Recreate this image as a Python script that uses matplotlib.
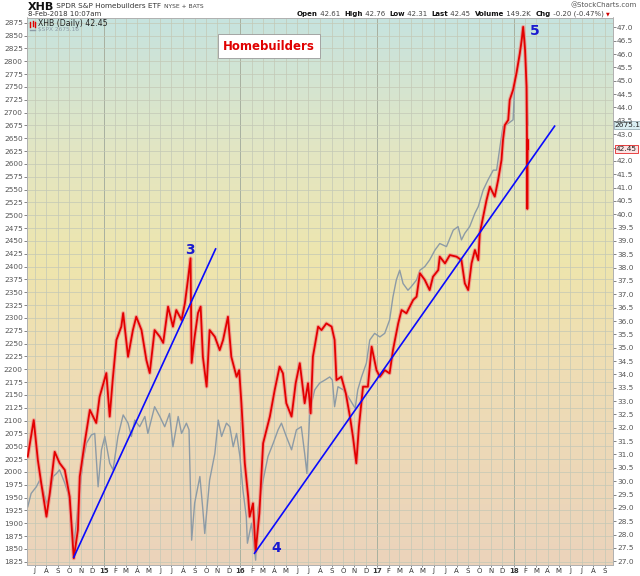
import numpy as np
import pandas as pd
import matplotlib
matplotlib.use("Agg")
import matplotlib.pyplot as plt
from matplotlib.colors import LinearSegmentedColormap
from matplotlib.lines import Line2D

# XHB daily (right axis)
xhb_dates = ["2014-06-12", "2014-06-28", "2014-07-09", "2014-07-18", "2014-08-01", "2014-08-10",
             "2014-08-23", "2014-09-05", "2014-09-19", "2014-10-02", "2014-10-13", "2014-10-24",
             "2014-10-29", "2014-11-11", "2014-11-25", "2014-12-12", "2014-12-21", "2015-01-08",
             "2015-01-17", "2015-01-25", "2015-02-04", "2015-02-17", "2015-02-22", "2015-03-07",
             "2015-03-20", "2015-03-29", "2015-04-12", "2015-04-25", "2015-05-04", "2015-05-17",
             "2015-05-31", "2015-06-09", "2015-06-22", "2015-07-05", "2015-07-14", "2015-07-28",
             "2015-08-06", "2015-08-14", "2015-08-21", "2015-08-24", "2015-09-01", "2015-09-10",
             "2015-09-17", "2015-09-23", "2015-10-03", "2015-10-11", "2015-10-25", "2015-11-07",
             "2015-11-16", "2015-11-29", "2015-12-08", "2015-12-22", "2015-12-29", "2016-01-04",
             "2016-01-13", "2016-01-22", "2016-01-26", "2016-02-04", "2016-02-11", "2016-02-21",
             "2016-03-02", "2016-03-20", "2016-04-02", "2016-04-15", "2016-04-24", "2016-05-03",
             "2016-05-17", "2016-05-28", "2016-06-08", "2016-06-21", "2016-06-30", "2016-07-07",
             "2016-07-13", "2016-07-27", "2016-08-05", "2016-08-18", "2016-09-01", "2016-09-09",
             "2016-09-14", "2016-09-27", "2016-10-09", "2016-10-20", "2016-10-28", "2016-11-06",
             "2016-11-13", "2016-11-24", "2016-12-07", "2016-12-17", "2016-12-30", "2017-01-08",
             "2017-01-21", "2017-02-03", "2017-02-12", "2017-02-26", "2017-03-07", "2017-03-20",
             "2017-03-29", "2017-04-07", "2017-04-16", "2017-04-25", "2017-05-08", "2017-05-21",
             "2017-05-30", "2017-06-13", "2017-06-17", "2017-07-01", "2017-07-14", "2017-08-01",
             "2017-08-14", "2017-08-23", "2017-09-01", "2017-09-10", "2017-09-19", "2017-09-28",
             "2017-10-02", "2017-10-20", "2017-10-29", "2017-11-11", "2017-11-20", "2017-11-29",
             "2017-12-03", "2017-12-08", "2017-12-17", "2017-12-21", "2017-12-30", "2018-01-08",
             "2018-01-17", "2018-01-22", "2018-01-26", "2018-01-31", "2018-02-04", "2018-02-05",
             "2018-02-06", "2018-02-07", "2018-02-08"]
xhb_close = [30.92, 32.29, 30.79, 29.93, 28.67, 29.56, 31.10, 30.68, 30.42, 29.42, 27.11, 28.17,
             30.17, 31.43, 32.67, 32.18, 33.16, 34.05, 32.42, 33.79, 35.29, 35.79, 36.30, 34.66,
             35.66, 36.16, 35.66, 34.54, 34.05, 35.66, 35.41, 35.18, 36.54, 35.79, 36.41, 36.04,
             36.67, 37.54, 38.35, 34.43, 35.41, 36.30, 36.54, 34.66, 33.54, 35.66, 35.41, 34.91,
             35.29, 36.16, 34.66, 33.91, 34.16, 32.92, 30.68, 29.42, 28.67, 29.17, 27.36, 28.80,
             31.42, 32.42, 33.42, 34.29, 34.04, 32.92, 32.42, 33.67, 34.42, 32.92, 33.67, 32.54,
             34.66, 35.79, 35.66, 35.91, 35.79, 35.29, 33.79, 33.91, 33.29, 32.42, 31.67, 30.67,
             32.04, 33.54, 33.54, 35.04, 34.16, 33.91, 34.16, 34.04, 34.91, 35.91, 36.41, 36.29,
             36.54, 36.79, 36.91, 37.79, 37.54, 37.16, 37.66, 37.91, 38.41, 38.16, 38.47, 38.41,
             38.28, 37.41, 37.16, 38.16, 38.66, 38.28, 39.28, 40.53, 41.03, 40.66, 41.28, 42.03,
             42.78, 43.34, 43.53, 44.28, 44.66, 45.28, 46.03, 46.52, 47.02, 46.15, 44.78, 43.04,
             40.20, 42.80, 42.45]

# $SPX overlay (left axis)
spx_dates = ["2014-06-12", "2014-06-21", "2014-07-05", "2014-07-14", "2014-07-23", "2014-08-01",
             "2014-08-10", "2014-08-19", "2014-08-28", "2014-09-05", "2014-09-19", "2014-09-28",
             "2014-10-14", "2014-10-29", "2014-11-07", "2014-11-16", "2014-11-29", "2014-12-08",
             "2014-12-17", "2014-12-26", "2015-01-04", "2015-01-17", "2015-01-26", "2015-02-08",
             "2015-02-22", "2015-03-07", "2015-03-16", "2015-03-25", "2015-04-07", "2015-04-21",
             "2015-04-29", "2015-05-17", "2015-05-31", "2015-06-13", "2015-06-26", "2015-07-05",
             "2015-07-19", "2015-07-28", "2015-08-10", "2015-08-17", "2015-08-24", "2015-09-01",
             "2015-09-15", "2015-09-23", "2015-09-28", "2015-10-11", "2015-10-25", "2015-11-03",
             "2015-11-12", "2015-11-25", "2015-12-04", "2015-12-13", "2015-12-22", "2015-12-31",
             "2016-01-08", "2016-01-17", "2016-01-20", "2016-01-31", "2016-02-11", "2016-02-17",
             "2016-03-02", "2016-03-15", "2016-03-29", "2016-04-11", "2016-04-20", "2016-05-03",
             "2016-05-17", "2016-05-30", "2016-06-12", "2016-06-21", "2016-06-27", "2016-07-05",
             "2016-07-18", "2016-07-31", "2016-08-14", "2016-08-27", "2016-09-03", "2016-09-09",
             "2016-09-18", "2016-10-02", "2016-10-15", "2016-11-03", "2016-11-10", "2016-11-20",
             "2016-12-03", "2016-12-12", "2016-12-25", "2017-01-08", "2017-01-21", "2017-02-03",
             "2017-02-12", "2017-02-21", "2017-03-02", "2017-03-11", "2017-03-24", "2017-04-02",
             "2017-04-16", "2017-04-25", "2017-05-08", "2017-05-21", "2017-06-04", "2017-06-17",
             "2017-07-05", "2017-07-23", "2017-08-05", "2017-08-14", "2017-08-23", "2017-09-05",
             "2017-09-19", "2017-09-28", "2017-10-11", "2017-10-24", "2017-11-07", "2017-11-16",
             "2017-11-25", "2017-12-03", "2017-12-17", "2017-12-30", "2018-01-04", "2018-01-17",
             "2018-01-24", "2018-01-31", "2018-02-04", "2018-02-07", "2018-02-08"]
spx_close = [1932, 1958, 1971, 1984, 1965, 1939, 1952, 1991, 1997, 2004, 1978, 1958,
             1861, 1965, 2023, 2056, 2072, 2075, 1971, 2043, 2069, 2017, 2004, 2069,
             2111, 2095, 2069, 2101, 2088, 2108, 2075, 2127, 2108, 2088, 2114, 2049,
             2108, 2075, 2095, 2082, 1867, 1939, 1991, 1926, 1880, 1984, 2036, 2101,
             2069, 2095, 2088, 2049, 2075, 2030, 1965, 1913, 1861, 1900, 1828, 1926,
             1984, 2030, 2056, 2082, 2095, 2069, 2043, 2082, 2088, 2036, 1997, 2121,
             2160, 2173, 2179, 2185, 2179, 2127, 2166, 2160, 2147, 2124, 2160, 2185,
             2212, 2257, 2270, 2263, 2270, 2296, 2341, 2374, 2393, 2367, 2354, 2361,
             2374, 2393, 2400, 2413, 2432, 2445, 2439, 2471, 2478, 2452, 2465, 2478,
             2504, 2517, 2549, 2569, 2588, 2588, 2634, 2673, 2679, 2686, 2763, 2809,
             2867, 2842, 2751, 2692, 2675.16]

# hand drawn trend lines (XHB scale)
trend3_dates = ["2014-10-13", "2015-10-27"]
trend3_vals = [27.15, 38.70]
trend4_dates = ["2016-02-08", "2018-04-20"]
trend4_vals = [27.30, 43.30]

month_letters = ["J", "F", "M", "A", "M", "J", "J", "A", "S", "O", "N", "D"]

W, H = 640, 576
fig = plt.figure(figsize=(W / 100, H / 100), dpi=100)
fig.patch.set_facecolor("white")
ax = fig.add_axes([27 / W, 1 - 565 / H, (613 - 27) / W, (565 - 17.5) / H])
ax2 = ax.twinx()

# background gradient
grad = LinearSegmentedColormap.from_list(
    "bg", [(0.0, "#ebd3bb"), (0.33, "#eedcb5"), (0.55, "#eee5ad"),
           (0.75, "#e3e6c2"), (1.0, "#c6e3df")])
ax.imshow(np.linspace(0, 1, 256).reshape(-1, 1), cmap=grad, origin="lower",
          aspect="auto", extent=[0, 1, 0, 1], transform=ax.transAxes, zorder=0)

xd = pd.to_datetime(xhb_dates)
sd = pd.to_datetime(spx_dates)

ax.plot(sd, spx_close, color="#8d9ba6", lw=1.0, zorder=3)
ax2.plot(xd, xhb_close, color="#f08a84", lw=2.8, alpha=0.7, zorder=3)
ax2.plot(xd, xhb_close, color="#e30000", lw=1.3, zorder=4)
ax2.plot(pd.to_datetime(trend3_dates), trend3_vals, color="#0a0aff", lw=1.2, zorder=5)
ax2.plot(pd.to_datetime(trend4_dates), trend4_vals, color="#0a0aff", lw=1.2, zorder=5)

ax.set_xlim(pd.Timestamp("2014-06-10"), pd.Timestamp("2018-09-23"))
ax.set_ylim(1818.6, 2885.4)
ax2.set_ylim(26.86, 47.37)

# grid
months = pd.date_range("2014-07-01", "2018-09-01", freq="MS")
for m in months:
    yr = m.month == 1
    ax.axvline(m, color="#a8b0a0" if yr else "#c3c8b6", lw=0.7 if yr else 0.5, zorder=1)
left_ticks = np.arange(1825, 2876, 25)
for v in left_ticks:
    ax.axhline(v, color="#c3c8b6", lw=0.5, zorder=1)

ax.set_xticks(months)
labels = [f"{m.year % 100}" if m.month == 1 else month_letters[m.month - 1] for m in months]
ax.set_xticklabels(labels)
for lab, m in zip(ax.get_xticklabels(), months):
    if m.month == 1:
        lab.set_fontweight("bold")
ax.set_yticks(left_ticks)
ax.set_yticklabels([str(v) for v in left_ticks])
right_ticks = np.arange(27.0, 47.01, 0.5)
ax2.set_yticks(right_ticks)
ax2.set_yticklabels([f"{v:.1f}" for v in right_ticks])

for a in (ax, ax2):
    a.tick_params(labelsize=5.3, colors="#555555", length=2, width=0.5, pad=1)
    for s in a.spines.values():
        s.set_color("#b0b0b0")
        s.set_linewidth(0.6)
ax.tick_params(axis="x", labelcolor="#333333", labelsize=5.0, pad=0.5, length=1.5)

# wave labels
ax2.text(pd.Timestamp("2015-08-20"), 38.65, "3", color="#1a1ad0", fontsize=10,
         fontweight="bold", ha="center", va="center", zorder=6)
ax2.text(pd.Timestamp("2016-04-07"), 27.5, "4", color="#1a1ad0", fontsize=10,
         fontweight="bold", ha="center", va="center", zorder=6)
ax2.text(pd.Timestamp("2018-02-25"), 46.85, "5", color="#1a1ad0", fontsize=10,
         fontweight="bold", ha="center", va="center", zorder=6)

# title box
fig.text(269 / W, 1 - 46 / H, "Homebuilders", color="#e00000", fontsize=8.5,
         fontweight="bold", ha="center", va="center",
         bbox=dict(boxstyle="square,pad=0.45", facecolor="white", edgecolor="#999999", lw=0.6))

renderer = fig.canvas.get_renderer()


def run_text(x, y, pieces):
    # write pieces one after another, left to right; returns end x in pixels
    for txt, size, weight, color in pieces:
        t = fig.text(x / W, 1 - y / H, txt, fontsize=size, fontweight=weight,
                     color=color, va="center")
        x += t.get_window_extent(renderer).width
    return x


# header
run_text(28, 6.5, [("XHB", 8, "bold", "#111111"),
                   (" SPDR S&P Homebuilders ETF ", 5.2, "normal", "#333333"),
                   ("NYSE + BATS", 4.3, "normal", "#444444")])
fig.text(28 / W, 1 - 14 / H, "8-Feb-2018 10:07am", fontsize=5.0, va="center", color="#333333")
fig.text(637 / W, 1 - 5.5 / H, "@StockCharts.com", fontsize=5.0, va="center", ha="right",
         color="#555555")

quote = [("Open", 5.0, "bold", "#111111"), (" 42.61  ", 5.0, "normal", "#444444"),
         ("High", 5.0, "bold", "#111111"), (" 42.76  ", 5.0, "normal", "#444444"),
         ("Low", 5.0, "bold", "#111111"), (" 42.31  ", 5.0, "normal", "#444444"),
         ("Last", 5.0, "bold", "#111111"), (" 42.45  ", 5.0, "normal", "#444444"),
         ("Volume", 5.0, "bold", "#111111"), (" 149.2K  ", 5.0, "normal", "#444444"),
         ("Chg", 5.0, "bold", "#111111"), (" -0.20 (-0.47%) ", 5.0, "normal", "#444444")]
probe = run_text(0, -50, quote)  # measure off-canvas
for t in fig.texts[-len(quote):]:
    t.remove()
end_x = run_text(606 - probe, 14, quote)
fig.text(end_x / W, 1 - 14 / H, "▼", fontsize=3.5, va="center", color="#d00000")

# legend in the plot
for lx, y0, y1 in [(30, 21.5, 26.5), (32.5, 21, 26), (35, 21.5, 26.5)]:
    fig.add_artist(Line2D([lx / W, lx / W], [1 - y0 / H, 1 - y1 / H], color="#e00000", lw=1.0))
fig.text(38 / W, 1 - 24 / H, "XHB (Daily) 42.45", fontsize=5.6, va="center", color="#222222")
fig.add_artist(Line2D([30 / W, 35 / W], [1 - 29.5 / H, 1 - 29.5 / H], color="#8d9ba6", lw=1.0))
fig.text(38 / W, 1 - 29.5 / H, "$SPX 2675.16", fontsize=4.2, va="center", color="#8d9ba6")

# last value tags on the right axis
ax.text(1.003, 2675.16, "2675.16", transform=ax.get_yaxis_transform(), fontsize=5.4,
        va="center", ha="left", color="#222222", zorder=10, clip_on=False,
        bbox=dict(boxstyle="square,pad=0.12", facecolor="#d9eef2", edgecolor="#8aa0a8", lw=0.5))
ax2.text(1.005, 42.45, "42.45", transform=ax2.get_yaxis_transform(), fontsize=5.4,
         va="center", ha="left", color="#222222", zorder=10, clip_on=False,
         bbox=dict(boxstyle="square,pad=0.12", facecolor="#fbe3e3", edgecolor="#e00000", lw=0.5))

fig.savefig("out.png", dpi=100)
